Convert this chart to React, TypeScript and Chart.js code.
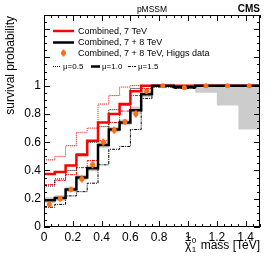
import React, { useEffect, useRef } from 'react';
import { Chart, registerables } from 'chart.js';

Chart.register(...registerables);

// Bin edges (TeV) of the neutralino-mass histograms
const binEdges = [0, 0.075, 0.15, 0.225, 0.3, 0.375, 0.45, 0.525, 0.6, 0.675, 0.75, 0.9, 1.05, 1.2, 1.35, 1.5];

// Combined, 7 TeV (red)
const red7Mu10 = [0.375, 0.39, 0.435, 0.51, 0.61, 0.74, 0.8, 0.87, 0.96, 1.0, 1.0, 1.0, 1.0, 1.0, 1.0];
const red7Mu05 = [0.475, 0.5, 0.575, 0.67, 0.7, 0.87, 0.93, 0.99, 1.0, 1.0, 1.0, 0.995, 1.0, 1.0, 1.0];
const red7Mu15 = [0.3, 0.33, 0.37, 0.42, 0.47, 0.61, 0.74, 0.82, 0.93, 0.98, 1.0, 0.99, 1.0, 1.0, 1.0];

// Combined, 7 + 8 TeV (black)
const combMu10 = [0.19, 0.205, 0.265, 0.35, 0.415, 0.58, 0.69, 0.74, 0.826, 0.94, 1.0, 0.99, 1.0, 1.0, 1.0];
const combMu05 = [0.29, 0.34, 0.4, 0.52, 0.6, 0.71, 0.83, 0.86, 0.98, 1.0, 1.0, 1.0, 1.0, 1.0, 1.0];
const combMu15 = [0.14, 0.16, 0.22, 0.25, 0.31, 0.44, 0.55, 0.57, 0.69, 0.91, 0.99, 0.98, 1.0, 1.0, 1.0];

// Uncertainty band around the 7 + 8 TeV, mu=1.0 curve
const bandHigh = [0.21, 0.225, 0.285, 0.37, 0.435, 0.6, 0.71, 0.76, 0.85, 0.96, 1.0, 1.0, 1.0, 1.0, 1.0];
const bandLow = [0.17, 0.185, 0.245, 0.33, 0.395, 0.56, 0.67, 0.72, 0.8, 0.92, 0.99, 0.98, 0.95, 0.86, 0.69];

// Combined, 7 + 8 TeV, Higgs data (orange points)
const higgsValues = [0.16, 0.2, 0.265, 0.34, 0.44, 0.6, 0.685, 0.744, 0.8, 0.96, 1.0, 0.985, 1.0, 1.0, 1.0];
const higgsErrors = [0.02, 0.02, 0.02, 0.025, 0.025, 0.025, 0.025, 0.02, 0.025, 0.02, 0.01, 0.015, 0.01, 0.01, 0.01];

// Axis ticks
const xTicks = [0, 0.2, 0.4, 0.6, 0.8, 1.0, 1.2, 1.4];
const xTickLabels = ['0', '0.2', '0.4', '0.6', '0.8', '1', '1.2', '1.4'];
const yTicks = [0, 0.2, 0.4, 0.6, 0.8, 1.0];
const yTickLabels = ['0', '0.2', '0.4', '0.6', '0.8', '1'];
const yMajorTicks = [0, 0.2, 0.4, 0.6, 0.8, 1.0, 1.2, 1.4];

const FONT = '"Liberation Sans", Arial, Helvetica, sans-serif';
const RED = '#ff0000';
const ORANGE = '#ff7010';
const DOT = [1, 1];
const DASHDOT = [3, 1, 1, 1];

function stepPoints(values: number[]) {
  const pts = values.map((v, i) => ({ x: binEdges[i], y: v }));
  pts.push({ x: binEdges[binEdges.length - 1], y: values[values.length - 1] });
  return pts;
}

const binCenters = binEdges.slice(0, -1).map((e, i) => (e + binEdges[i + 1]) / 2);

const rootPlugin = {
  id: 'rootStyle',
  afterDatasetsDraw(chart: any) {
    const { ctx, chartArea: a, scales } = chart;
    const x = scales.x;
    const y = scales.y;
    ctx.save();

    // Error bars on Higgs points
    ctx.strokeStyle = ORANGE;
    ctx.lineWidth = 2;
    higgsValues.forEach((v, i) => {
      const px = x.getPixelForValue(binCenters[i]);
      ctx.beginPath();
      ctx.moveTo(px, y.getPixelForValue(v - higgsErrors[i]));
      ctx.lineTo(px, y.getPixelForValue(v + higgsErrors[i]));
      ctx.stroke();
    });

    // Frame
    ctx.strokeStyle = '#000';
    ctx.lineWidth = 1;
    ctx.setLineDash([]);
    ctx.strokeRect(a.left + 0.5, a.top + 0.5, a.right - a.left - 1, a.bottom - a.top - 1);

    // Inward ticks
    ctx.beginPath();
    for (let k = 0; k <= 30; k++) {
      const v = k * 0.05;
      const major = xTicks.some((t) => Math.abs(t - v) < 1e-6);
      const len = major ? 6 : 3;
      const px = Math.round(x.getPixelForValue(v)) + 0.5;
      ctx.moveTo(px, a.bottom);
      ctx.lineTo(px, a.bottom - len);
      ctx.moveTo(px, a.top);
      ctx.lineTo(px, a.top + len);
    }
    for (let k = 0; k <= 30; k++) {
      const v = k * 0.05;
      const major = yMajorTicks.some((t) => Math.abs(t - v) < 1e-6);
      const len = major ? 6 : 3;
      const py = Math.round(y.getPixelForValue(v)) + 0.5;
      ctx.moveTo(a.left, py);
      ctx.lineTo(a.left + len, py);
      ctx.moveTo(a.right, py);
      ctx.lineTo(a.right - len, py);
    }
    ctx.stroke();

    // Legend
    const lx0 = 53;
    const lx1 = 74;
    const tx = 78;
    ctx.font = `9px ${FONT}`;
    ctx.textBaseline = 'middle';
    ctx.textAlign = 'left';
    ctx.fillStyle = '#000';

    ctx.lineWidth = 2.5;
    ctx.strokeStyle = RED;
    ctx.beginPath();
    ctx.moveTo(lx0, 31);
    ctx.lineTo(lx1, 31);
    ctx.stroke();
    ctx.fillText('Combined, 7 TeV', tx, 31.5);

    ctx.strokeStyle = '#000';
    ctx.beginPath();
    ctx.moveTo(lx0, 42.5);
    ctx.lineTo(lx1, 42.5);
    ctx.stroke();
    ctx.fillText('Combined, 7 + 8 TeV', tx, 43);

    ctx.strokeStyle = ORANGE;
    ctx.lineWidth = 2;
    ctx.beginPath();
    ctx.moveTo(63.5, 49.5);
    ctx.lineTo(63.5, 56.5);
    ctx.stroke();
    ctx.fillStyle = ORANGE;
    ctx.beginPath();
    ctx.arc(63.5, 53, 2.5, 0, Math.PI * 2);
    ctx.fill();
    ctx.fillStyle = '#000';
    ctx.fillText('Combined, 7 + 8 TeV, Higgs data', tx, 53.5);

    ctx.font = `8px ${FONT}`;
    const muRow = [
      { x0: 53, x1: 61, dash: DOT, w: 1, label: 'μ=0.5' },
      { x0: 91, x1: 100, dash: [] as number[], w: 2.5, label: 'μ=1.0' },
      { x0: 128, x1: 136, dash: DASHDOT, w: 1, label: 'μ=1.5' },
    ];
    muRow.forEach((m) => {
      ctx.strokeStyle = '#000';
      ctx.lineWidth = m.w;
      ctx.setLineDash(m.dash);
      ctx.beginPath();
      ctx.moveTo(m.x0, 66.5);
      ctx.lineTo(m.x1, 66.5);
      ctx.stroke();
      ctx.setLineDash([]);
      ctx.fillText(m.label, m.x1 + 2, 67);
    });

    // Header texts
    ctx.textBaseline = 'alphabetic';
    ctx.font = `8.5px ${FONT}`;
    ctx.textAlign = 'center';
    ctx.fillText('pMSSM', 152, 12);
    ctx.font = `bold 10px ${FONT}`;
    ctx.textAlign = 'right';
    ctx.fillText('CMS', 260, 12);

    // Y title
    ctx.save();
    ctx.translate(14, 16);
    ctx.rotate(-Math.PI / 2);
    ctx.font = `12px ${FONT}`;
    ctx.textAlign = 'right';
    ctx.fillText('survival probability', 0, 0);
    ctx.restore();

    // X title: chi~_1^0 mass [TeV]
    ctx.font = `12px ${FONT}`;
    ctx.textAlign = 'left';
    const rest = ' mass [TeV]';
    const wRest = ctx.measureText(rest).width;
    const base = 249;
    const restX = 260 - wRest;
    ctx.fillText(rest, restX, base);
    ctx.font = `8px ${FONT}`;
    const supX = restX - 5.5;
    ctx.fillText('0', supX, base - 6);
    ctx.fillText('1', supX, base + 3);
    ctx.font = `12px ${FONT}`;
    const chiW = ctx.measureText('χ').width;
    const chiX = supX - chiW - 0.5;
    ctx.fillText('χ', chiX, base);
    ctx.font = `10px ${FONT}`;
    ctx.fillText('~', chiX + 0.5, base - 8);

    ctx.restore();
  },
};

export default function App() {
  const ref = useRef<HTMLCanvasElement | null>(null);

  useEffect(() => {
    document.body.style.margin = '0';
    const canvas = ref.current;
    if (!canvas) return;

    const line = (data: number[], color: string, width: number, dash: number[], order: number) => ({
      data: stepPoints(data),
      borderColor: color,
      borderWidth: width,
      borderDash: dash,
      pointRadius: 0,
      stepped: true,
      fill: false,
      order,
    });

    const chart = new Chart(canvas, {
      type: 'line',
      data: {
        datasets: [
          {
            data: stepPoints(bandHigh),
            borderWidth: 0,
            borderColor: 'rgba(0,0,0,0)',
            backgroundColor: '#cccccc',
            pointRadius: 0,
            stepped: true,
            fill: '+1',
            order: 20,
          } as any,
          {
            data: stepPoints(bandLow),
            borderWidth: 0,
            borderColor: 'rgba(0,0,0,0)',
            pointRadius: 0,
            stepped: true,
            fill: false,
            order: 21,
          } as any,
          line(red7Mu05, RED, 1, DOT, 6),
          line(red7Mu15, RED, 1, DASHDOT, 6),
          line(combMu05, '#000', 1, DOT, 5),
          line(combMu15, '#000', 1, DASHDOT, 5),
          line(red7Mu10, RED, 2.5, [], 3),
          line(combMu10, '#000', 2.5, [], 2),
          {
            data: higgsValues.map((v, i) => ({ x: binCenters[i], y: v })),
            showLine: false,
            pointRadius: 2.5,
            pointStyle: 'circle',
            pointBackgroundColor: ORANGE,
            pointBorderColor: ORANGE,
            pointBorderWidth: 0,
            order: 0,
          } as any,
        ],
      },
      options: {
        animation: false,
        responsive: false,
        maintainAspectRatio: false,
        layout: { padding: { left: 0, right: 14, top: 15, bottom: 0 } },
        plugins: { legend: { display: false }, tooltip: { enabled: false }, title: { display: false } },
        scales: {
          x: {
            type: 'linear',
            min: 0,
            max: 1.5,
            grid: { display: false, drawTicks: false },
            border: { display: false },
            afterBuildTicks: (s: any) => {
              s.ticks = xTicks.map((v) => ({ value: v }));
            },
            afterFit: (s: any) => {
              s.height = 36;
            },
            ticks: {
              autoSkip: false,
              maxRotation: 0,
              padding: 3,
              color: '#000',
              font: { family: FONT, size: 12 },
              callback: (v: any) => {
                const i = xTicks.findIndex((t) => Math.abs(t - v) < 1e-6);
                return i >= 0 ? xTickLabels[i] : '';
              },
            },
          },
          y: {
            type: 'linear',
            min: 0,
            max: 1.5,
            grid: { display: false, drawTicks: false },
            border: { display: false },
            afterBuildTicks: (s: any) => {
              s.ticks = yTicks.map((v) => ({ value: v }));
            },
            afterFit: (s: any) => {
              s.width = 44;
            },
            ticks: {
              autoSkip: false,
              padding: 3,
              color: '#000',
              font: { family: FONT, size: 12 },
              callback: (v: any) => {
                const i = yTicks.findIndex((t) => Math.abs(t - v) < 1e-6);
                return i >= 0 ? yTickLabels[i] : '';
              },
            },
          },
        },
      },
      plugins: [rootPlugin],
    } as any);

    return () => chart.destroy();
  }, []);

  return (
    <div style={{ position: 'absolute', left: 0, top: 0, width: 274, height: 263, background: '#fff' }}>
      <canvas ref={ref} width={274} height={263} style={{ width: 274, height: 263, display: 'block' }} />
    </div>
  );
}
